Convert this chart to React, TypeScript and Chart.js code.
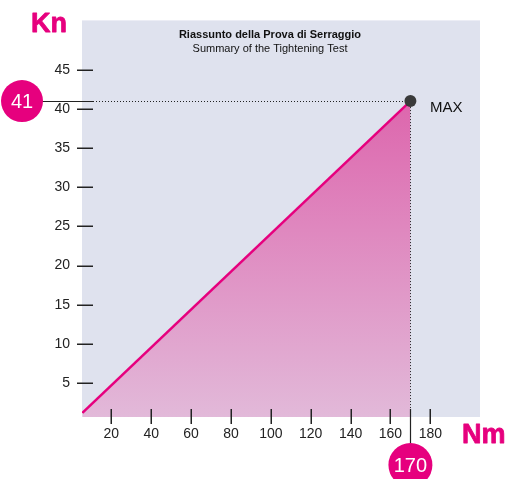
import React, { useEffect, useRef } from "react";
import { Chart, registerables } from "chart.js";

Chart.register(...registerables);

// ---- data ----
const torqueNm = [5.5, 170];
const loadKn = [1.2, 41];
const maxTorque = 170;
const maxLoad = 41;
const xTickValues = [20, 40, 60, 80, 100, 120, 140, 160, 180];
const yTickValues = [5, 10, 15, 20, 25, 30, 35, 40, 45];
const titleText = "Riassunto della Prova di Serraggio";
const subtitleText = "Summary of the Tightening Test";
const xUnit = "Nm";
const yUnit = "Kn";
const maxLabel = "MAX";

const SANS = '"Liberation Sans", Arial, sans-serif';
const PINK = "#e6007e";

const decorations = {
  id: "decorations",
  beforeDraw(chart: any) {
    const { ctx, chartArea } = chart;
    ctx.save();
    ctx.fillStyle = "#dfe2ee";
    ctx.fillRect(chartArea.left, chartArea.top, chartArea.right - chartArea.left, chartArea.bottom - chartArea.top);
    ctx.restore();
  },
  beforeDatasetDraw(chart: any, args: any) {
    if (args.index !== 1) return;
    const { ctx, chartArea, scales } = chart;
    const px = scales.x.getPixelForValue(maxTorque);
    const py = scales.y.getPixelForValue(maxLoad);
    ctx.save();
    ctx.strokeStyle = "#222";
    ctx.lineWidth = 1;
    ctx.setLineDash([1, 2]);
    ctx.beginPath();
    ctx.moveTo(chartArea.left + 11, Math.round(py) + 0.5);
    ctx.lineTo(px, Math.round(py) + 0.5);
    ctx.moveTo(Math.round(px) + 0.5, py);
    ctx.lineTo(Math.round(px) + 0.5, chartArea.bottom - 8);
    ctx.stroke();
    ctx.restore();
  },
  afterDraw(chart: any) {
    const { ctx, chartArea, scales } = chart;
    const xs = scales.x;
    const ys = scales.y;
    const px = xs.getPixelForValue(maxTorque);
    const py = ys.getPixelForValue(maxLoad);
    ctx.save();
    // tick marks
    ctx.strokeStyle = "#222";
    ctx.lineWidth = 1.5;
    ctx.beginPath();
    for (const v of yTickValues) {
      const y = Math.round(ys.getPixelForValue(v)) + 0.25;
      ctx.moveTo(chartArea.left - 5, y);
      ctx.lineTo(chartArea.left + 11, y);
    }
    for (const v of xTickValues) {
      const x = Math.round(xs.getPixelForValue(v)) + 0.25;
      ctx.moveTo(x, chartArea.bottom - 8);
      ctx.lineTo(x, chartArea.bottom + 7);
    }
    ctx.stroke();

    // solid leader lines
    ctx.lineWidth = 1.2;
    ctx.beginPath();
    ctx.moveTo(40, Math.round(py) + 0.5);
    ctx.lineTo(chartArea.left + 11, Math.round(py) + 0.5);
    ctx.moveTo(Math.round(px) + 0.5, chartArea.bottom - 8);
    ctx.lineTo(Math.round(px) + 0.5, 450);
    ctx.stroke();

    // circles
    ctx.fillStyle = PINK;
    ctx.beginPath();
    ctx.arc(22, py, 21, 0, Math.PI * 2);
    ctx.fill();
    ctx.beginPath();
    ctx.arc(px, 465, 22, 0, Math.PI * 2);
    ctx.fill();
    ctx.fillStyle = "#fff";
    ctx.font = `20px ${SANS}`;
    ctx.textAlign = "center";
    ctx.textBaseline = "middle";
    ctx.fillText(String(maxLoad), 22, py + 1);
    ctx.fillText(String(maxTorque), px, 466);

    // unit labels (heavy)
    ctx.fillStyle = PINK;
    ctx.strokeStyle = PINK;
    ctx.lineWidth = 0.8;
    ctx.lineJoin = "round";
    ctx.font = `bold 27px ${SANS}`;
    ctx.textAlign = "left";
    ctx.textBaseline = "alphabetic";
    ctx.fillText(yUnit, 31, 32);
    ctx.strokeText(yUnit, 31, 32);
    ctx.fillText(xUnit, 462, 443);
    ctx.strokeText(xUnit, 462, 443);

    // MAX label
    ctx.fillStyle = "#111";
    ctx.font = `15px ${SANS}`;
    ctx.textBaseline = "middle";
    ctx.fillText(maxLabel, 430, 108);

    // titles
    ctx.textAlign = "center";
    ctx.font = `bold 11px ${SANS}`;
    ctx.fillText(titleText, 270, 35);
    ctx.font = `11px ${SANS}`;
    ctx.fillText(subtitleText, 270, 49);
    ctx.restore();
  },
};

export default function App() {
  const ref = useRef<HTMLCanvasElement | null>(null);
  useEffect(() => {
    const canvas = ref.current;
    if (!canvas) return;
    const chart = new Chart(canvas, {
      type: "line",
      data: {
        datasets: [
          {
            data: torqueNm.map((x, i) => ({ x, y: loadKn[i] })),
            borderColor: PINK,
            borderWidth: 2.5,
            pointRadius: 0,
            fill: "start",
            order: 2,
            backgroundColor: (c: any) => {
              const ch = c.chart;
              const area = ch.chartArea;
              if (!area) return "#e09ccb";
              const top = ch.scales.y.getPixelForValue(maxLoad);
              const g = ch.ctx.createLinearGradient(0, top, 0, area.bottom);
              g.addColorStop(0, "#dd66ad");
              g.addColorStop(1, "#e2b9d9");
              return g;
            },
          },
          {
            data: [{ x: maxTorque, y: maxLoad }],
            showLine: false,
            pointRadius: 6,
            pointBackgroundColor: "#3a3a3a",
            pointBorderWidth: 0,
            order: 1,
          },
        ],
      },
      options: {
        responsive: false,
        animation: false,
        layout: { padding: { left: 0, top: 15, right: 26, bottom: 0 } },
        plugins: { legend: { display: false }, tooltip: { enabled: false } },
        scales: {
          x: {
            type: "linear",
            min: 5.3,
            max: 204.9,
            grid: { display: false, drawTicks: false },
            border: { display: false },
            afterBuildTicks: (s: any) => {
              s.ticks = xTickValues.map((v) => ({ value: v }));
            },
            afterFit: (s: any) => {
              s.height = 62;
            },
            ticks: {
              padding: 9,
              color: "#222",
              maxRotation: 0,
              autoSkip: false,
              font: { family: SANS, size: 14 },
            },
          },
          y: {
            type: "linear",
            min: 0.67,
            max: 51.3,
            grid: { display: false, drawTicks: false },
            border: { display: false },
            afterBuildTicks: (s: any) => {
              s.ticks = yTickValues.map((v) => ({ value: v }));
            },
            afterFit: (s: any) => {
              s.width = 82;
            },
            ticks: {
              padding: 12,
              color: "#222",
              autoSkip: false,
              font: { family: SANS, size: 14 },
            },
          },
        },
      },
      plugins: [decorations],
    } as any);
    return () => chart.destroy();
  }, []);
  return (
    <div style={{ position: "absolute", left: 0, top: 0, width: 506, height: 479 }}>
      <canvas ref={ref} width={506} height={479} />
    </div>
  );
}
